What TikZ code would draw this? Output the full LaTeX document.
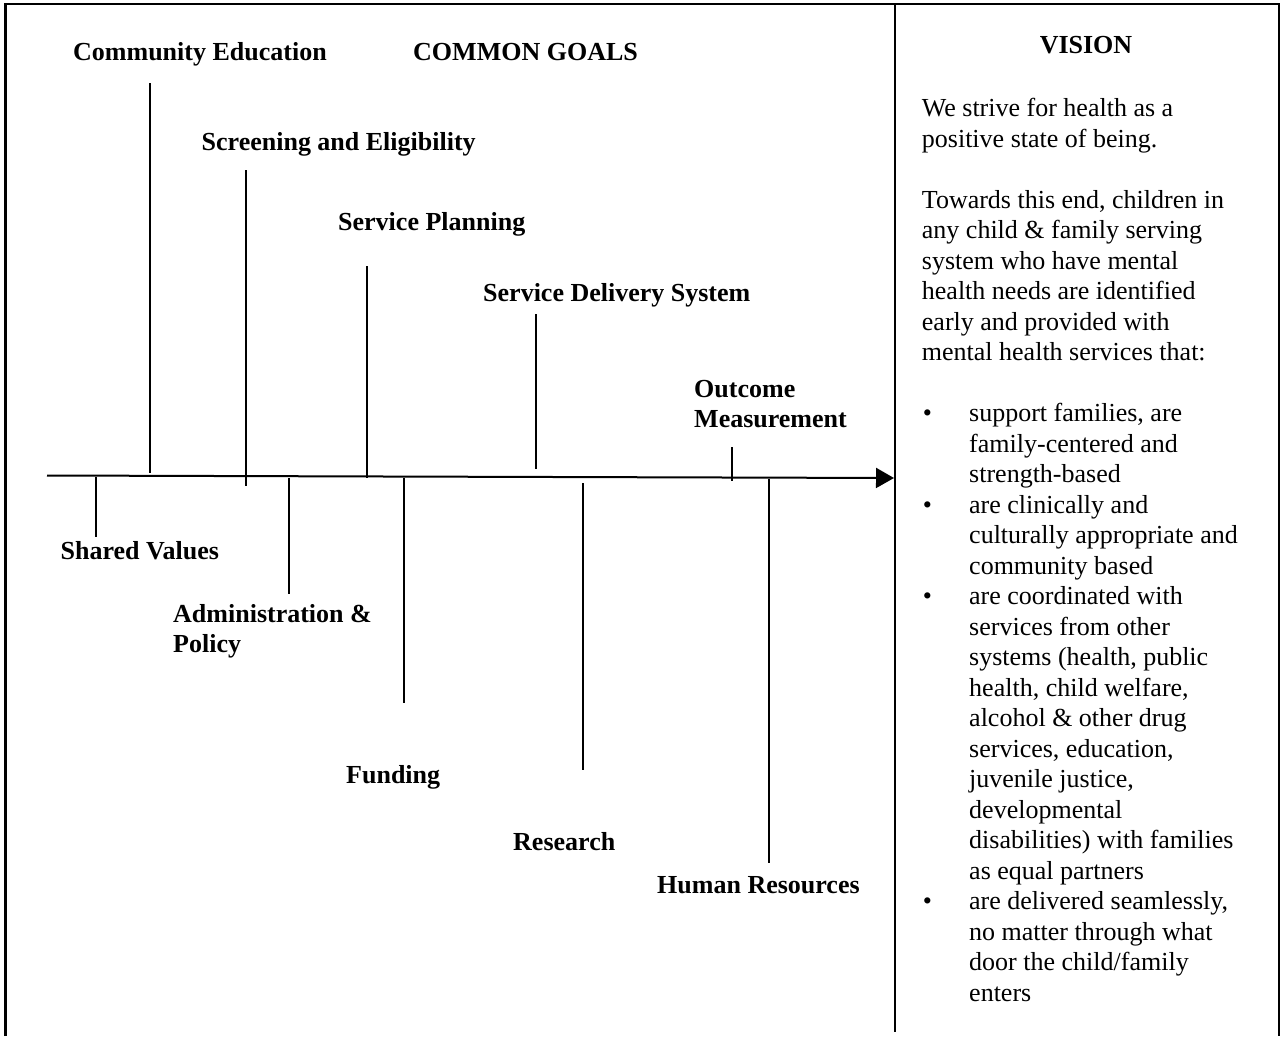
\documentclass[tikz,border=0pt]{standalone}
\usepackage{fontspec}
\setmainfont{Liberation Serif}
\usetikzlibrary{arrows.meta}
\begin{document}
\begin{tikzpicture}[x=1pt,y=-1pt,
  lbl/.style={font=\fontsize{26}{30.5}\selectfont\bfseries, inner sep=0pt, anchor=base west},
  body/.style={font=\fontsize{26}{30.5}\selectfont, inner sep=0pt, anchor=base west},
  ln/.style={line width=2pt},
  frame/.style={line width=2.6pt},
  tip/.style={-{Triangle[length=18pt,width=20pt]}}]
\useasboundingbox (0,0) rectangle (1281,1036);

% frame
\coordinate (tl) at (5.5,4);
\coordinate (tr) at (1279,4);
\coordinate (bl) at (5.5,1036);
\coordinate (br) at (1279,1036);
\coordinate (dt) at (895,4);
\coordinate (db) at (895,1032);
\draw[frame] (bl) -- (tl) -- (tr) -- (br);
\draw[frame] (dt) -- (db);

% axis
\coordinate (a0) at (47,475.5);
\coordinate (a1) at (894,478);
\draw[ln, tip] (a0) -- (a1);

% labels above
\node[lbl] (ce)  at (73,60)   {Community Education};
\node[lbl] (cg)  at (413,60)  {COMMON GOALS};
\node[lbl] (se)  at (201.5,150) {Screening and Eligibility};
\node[lbl] (sp)  at (338,230) {Service Planning};
\node[lbl] (sds) at (483,301) {Service Delivery System};
\node[lbl] (om)  at (694,397) {\begin{tabular}[t]{@{}l@{}}Outcome\\Measurement\end{tabular}};

% labels below
\node[lbl] (sv)  at (60.5,559) {Shared Values};
\node[lbl] (ap)  at (173,622) {\begin{tabular}[t]{@{}l@{}}Administration \&\\Policy\end{tabular}};
\node[lbl] (fu)  at (346,783) {Funding};
\node[lbl] (re)  at (513,850) {Research};
\node[lbl] (hr)  at (657,893) {Human Resources};

% tick lines above the axis
\coordinate (ceT) at (150.4,83);  \coordinate (ceB) at (150.4,473);
\coordinate (seT) at (246,170);   \coordinate (seB) at (246,485.5);
\coordinate (spT) at (367,266);   \coordinate (spB) at (367,478);
\coordinate (sdT) at (536,314);   \coordinate (sdB) at (536,469);
\coordinate (omT) at (732,447);   \coordinate (omB) at (732,481);
\draw[ln] (ceT) -- (ceB);
\draw[ln] (seT) -- (seB);
\draw[ln] (spT) -- (spB);
\draw[ln] (sdT) -- (sdB);
\draw[ln] (omT) -- (omB);

% tick lines below the axis
\coordinate (svT) at (96,477);    \coordinate (svB) at (96,537);
\coordinate (apT) at (288.6,478); \coordinate (apB) at (288.6,594);
\coordinate (fuT) at (404,478);   \coordinate (fuB) at (404,703);
\coordinate (reT) at (583,483);   \coordinate (reB) at (583,770);
\coordinate (hrT) at (769,478.5); \coordinate (hrB) at (769,863);
\draw[ln] (svT) -- (svB);
\draw[ln] (apT) -- (apB);
\draw[ln] (fuT) -- (fuB);
\draw[ln] (reT) -- (reB);
\draw[ln] (hrT) -- (hrB);

% vision column
\node[lbl, anchor=base] (vt) at (1086,53) {VISION};
\node[body] (vx) at (921.7,116.7) {\begin{minipage}[t]{350pt}\parskip=0pt\parindent=0pt
We strive for health as a\\
positive state of being.\par
\vspace{30.5pt}
Towards this end, children in\\
any child \& family serving\\
system who have mental\\
health needs are identified\\
early and provided with\\
mental health services that:\par
\vspace{30.5pt}
\hangindent=47.3pt\hangafter=1\makebox[47.3pt][l]{\hspace{1pt}\textbullet}support families, are\\
family-centered and\\
strength-based\par
\hangindent=47.3pt\hangafter=1\makebox[47.3pt][l]{\hspace{1pt}\textbullet}are clinically and\\
culturally appropriate and\\
community based\par
\hangindent=47.3pt\hangafter=1\makebox[47.3pt][l]{\hspace{1pt}\textbullet}are coordinated with\\
services from other\\
systems (health, public\\
health, child welfare,\\
alcohol \& other drug\\
services, education,\\
juvenile justice,\\
developmental\\
disabilities) with families\\
as equal partners\par
\hangindent=47.3pt\hangafter=1\makebox[47.3pt][l]{\hspace{1pt}\textbullet}are delivered seamlessly,\\
no matter through what\\
door the child/family\\
enters\par
\end{minipage}};
\end{tikzpicture}
\end{document}
